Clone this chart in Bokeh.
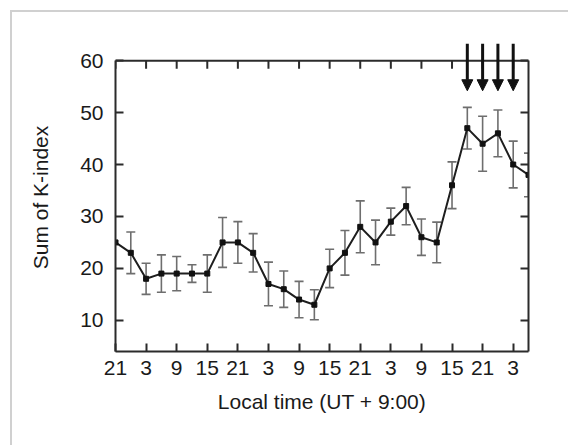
from bokeh.plotting import figure
from bokeh.models import (LinearAxis, FixedTicker, Range1d, Arrow, NormalHead, ColumnDataSource,
                          CustomJSTickFormatter, Span)
from bokeh.embed import file_html
from bokeh.resources import INLINE

nan = float("nan")

# 3-hourly bins, local time starting at 21 LT
time_index = list(range(28))
k_sum = [25, 23, 18, 19, 19, 19, 19, 25, 25, 23, 17, 16, 14, 13,
         20, 23, 28, 25, 29, 32, 26, 25, 36, 47, 44, 46, 40, 38]
k_err = [nan, 4.0, 3.0, 3.6, 3.3, 1.7, 3.6, 4.8, 4.0, 3.7, 4.2, 3.5, 3.5, 2.9,
         3.7, 4.3, 5.0, 4.3, 2.6, 3.6, 3.5, 3.9, 4.5, 4.0, 5.3, 4.5, 4.5, 4.2]
tick_positions = [0, 2, 4, 6, 8, 10, 12, 14, 16, 18, 20, 22, 24, 26]
tick_labels = ["21", "3", "9", "15", "21", "3", "9", "15", "21", "3", "9", "15", "21", "3"]
y_ticks = [10, 20, 30, 40, 50, 60]
y_min, y_max = 4, 60
arrow_index = [23, 24, 25, 26]
arrow_top = [63.3, 63.3, 63.3, 63.3]
arrow_tip = [54.2, 54.2, 54.2, 54.2]

upper = [v + e for v, e in zip(k_sum, k_err)]
lower = [v - e for v, e in zip(k_sum, k_err)]
src = ColumnDataSource(dict(x=time_index, y=k_sum, up=upper, lo=lower))

FONT = "Liberation Sans"
DARK = "#2b2b2b"
TOP_TICK_LEN = 1.54  # length of the inward top ticks, in y units (~8 px)

p = figure(width=558, height=435, output_backend="svg", toolbar_location=None,
           x_range=Range1d(time_index[0], time_index[-1]), y_range=Range1d(y_min, max(arrow_top)),
           min_border_left=103, min_border_right=42, min_border_top=31, min_border_bottom=96)
p.styles = {"margin-left": "10px", "margin-top": "10px",
            "border-left": "2px solid #d0d0d0", "border-top": "2px solid #d0d0d0"}
p.grid.visible = False
p.outline_line_color = None
p.background_fill_color = "white"
p.border_fill_color = "white"

# top edge of the box and its inward ticks
p.add_layout(Span(location=y_max, dimension="width", line_color=DARK, line_width=2))
p.segment(x0=tick_positions, y0=[y_max] * len(tick_positions),
          x1=tick_positions, y1=[y_max - TOP_TICK_LEN] * len(tick_positions),
          line_color=DARK, line_width=2)

# error bars
p.segment(x0="x", y0="lo", x1="x", y1="up", source=src, line_color="#6e6e6e", line_width=1.6)
p.scatter(x="x", y="up", source=src, marker="dash", size=9, line_color="#6e6e6e", line_width=1.6)
p.scatter(x="x", y="lo", source=src, marker="dash", size=9, line_color="#6e6e6e", line_width=1.6)
# line + markers
p.line(x="x", y="y", source=src, line_color="#1e1e1e", line_width=2)
p.scatter(x="x", y="y", source=src, marker="square", size=5, fill_color="#111111", line_color="#111111")

# arrows
asrc = ColumnDataSource(dict(x=arrow_index, ys=arrow_top, ye=arrow_tip))
p.add_layout(Arrow(end=NormalHead(size=11, fill_color="#111111", line_color="#111111"),
                   x_start="x", y_start="ys", x_end="x", y_end="ye", source=asrc,
                   line_color="#111111", line_width=3))

overrides = {t: l for t, l in zip(tick_positions, tick_labels)}

def style_axis(ax, labels=True):
    ax.axis_line_color = DARK
    ax.axis_line_width = 2
    ax.major_tick_line_color = DARK
    ax.major_tick_line_width = 2
    ax.major_tick_in = 8
    ax.major_tick_out = 0
    ax.minor_tick_line_color = None
    if labels:
        ax.major_label_text_font = FONT
        ax.major_label_text_font_size = "21px"
        ax.major_label_text_color = "#1a1a1a"
        ax.axis_label_text_font = FONT
        ax.axis_label_text_font_size = "21px"
        ax.axis_label_text_font_style = "normal"
        ax.axis_label_text_color = "#1a1a1a"
    else:
        ax.formatter = CustomJSTickFormatter(code="return ''")

xa = p.xaxis[0]
xa.ticker = FixedTicker(ticks=tick_positions)
xa.major_label_overrides = overrides
xa.axis_label = "Local time (UT + 9:00)"
xa.major_label_standoff = 9
xa.axis_label_standoff = 12
style_axis(xa)

ya = p.yaxis[0]
ya.ticker = FixedTicker(ticks=y_ticks)
ya.bounds = (y_min, y_max)
ya.axis_label = "Sum of K-index"
ya.major_label_standoff = 12
ya.axis_label_standoff = 25
style_axis(ya)

right_ax = LinearAxis(ticker=FixedTicker(ticks=y_ticks), bounds=(y_min, y_max))
style_axis(right_ax, labels=False)
p.add_layout(right_ax, "right")

open("out.html", "w").write(file_html(p, INLINE))
